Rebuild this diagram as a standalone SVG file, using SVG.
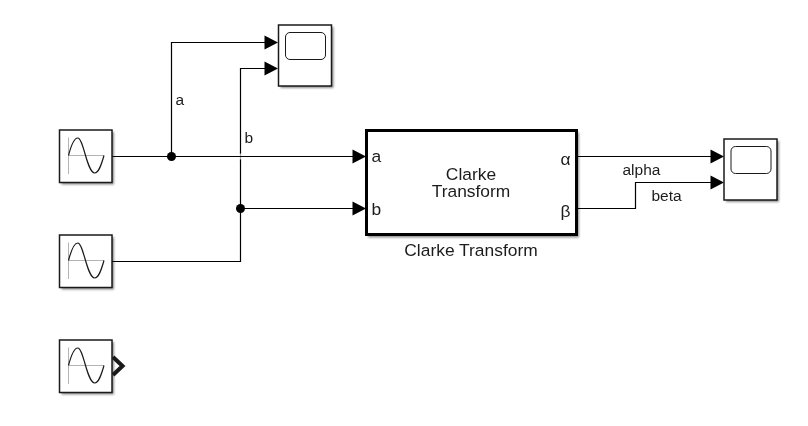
<svg xmlns="http://www.w3.org/2000/svg" width="808" height="426" viewBox="0 0 808 426">
<style>
.b{fill:#fff;stroke:#1a1a1a;stroke-width:1.5}
.k{fill:#fff;stroke:#000;stroke-width:3}
.sh{fill:#000;opacity:.45;filter:url(#bl)}
.ax{fill:none;stroke:#b4b4b4;stroke-width:1}
.sw{fill:none;stroke:#1a1a1a;stroke-width:1.2}
.sc{fill:none;stroke:#1a1a1a;stroke-width:1}
.c{fill:none;stroke:#000;stroke-width:1.2}
text{font-family:"Liberation Sans",Arial,sans-serif;font-size:15.500px;fill:#1a1a1a;opacity:.99}
.l{font-size:17.400px}
.m{text-anchor:middle}
</style>
<defs>
<filter id="bl" x="-20%" y="-20%" width="140%" height="140%"><feGaussianBlur stdDeviation="1.3"/></filter>
<g id="sine">
<rect class="sh" x="2" y="2" width="52.5" height="52.5"/>
<rect class="b" x="0" y="0" width="52.5" height="52.5"/>
<path class="ax" d="M9 7.5V44M9 25.500H44.500"/>
<path class="sw" d="M9 25.500C12 14 15 8 18.300 8C24 8 27.500 43 35.200 43C39 43 41.500 36 44.500 25.500"/>
</g>
<g id="scope">
<rect class="sh" x="2" y="2" width="53" height="61"/>
<rect class="b" x="0" y="0" width="53" height="61"/>
<rect class="sc" x="7" y="7.500" width="40" height="27" rx="4.500"/>
</g>
</defs>
<g id="connectors">
<path d="M240.500 152V161" fill="none" stroke="#a8a8a8" stroke-width="1.2"/>
<path class="c" d="M112 156.500H354M171.500 156.500V42.500H266M240.500 208.500V159.500M240.500 153.500V68.500H266M112 261.500H240.500V208.500H354M577 156.500H712M577 208.500H635.500V182.500H712"/>
<circle cx="171.500" cy="156.500" r="4.500"/>
<circle cx="240.500" cy="208.500" r="4.500"/>
<path d="M264.500 35.500L278 42.500L264.500 49.500ZM264.500 61.500L278 68.500L264.500 75.500ZM352.500 149.500L366 156.500L352.500 163.500ZM352.500 201.500L366 208.500L352.500 215.500ZM710.500 149.500L724 156.500L710.500 163.500ZM710.500 175.500L724 182.500L710.500 189.500Z"/>
<text x="175.500" y="105">a</text>
<text x="244.500" y="143">b</text>
<text x="622.500" y="175">alpha</text>
<text x="651.500" y="201">beta</text>
</g>
<g id="sine1"><use href="#sine" x="59.500" y="130"/></g>
<g id="sine2"><use href="#sine" x="59.500" y="235"/></g>
<g id="sine3"><use href="#sine" x="59.500" y="340"/>
<path d="M113 357L122.500 366L113 375" fill="none" stroke="#1a1a1a" stroke-width="4"/></g>
<g id="scope1"><use href="#scope" x="278.500" y="25"/></g>
<g id="scope2"><use href="#scope" x="724" y="139"/></g>
<g id="clarke">
<rect class="sh" x="368" y="132.500" width="211" height="105"/>
<rect class="k" x="366.500" y="130.500" width="210" height="104"/>
<text class="l" x="371.500" y="162">a</text>
<text class="l" x="371.500" y="215">b</text>
<text class="l" x="570.500" y="165" text-anchor="end">α</text>
<text class="l" x="570.500" y="217" text-anchor="end">β</text>
<text class="l m"><tspan x="471" y="180">Clarke</tspan><tspan x="471" y="197">Transform</tspan></text>
<text class="l m" x="471" y="256">Clarke Transform</text>
</g>
</svg>
